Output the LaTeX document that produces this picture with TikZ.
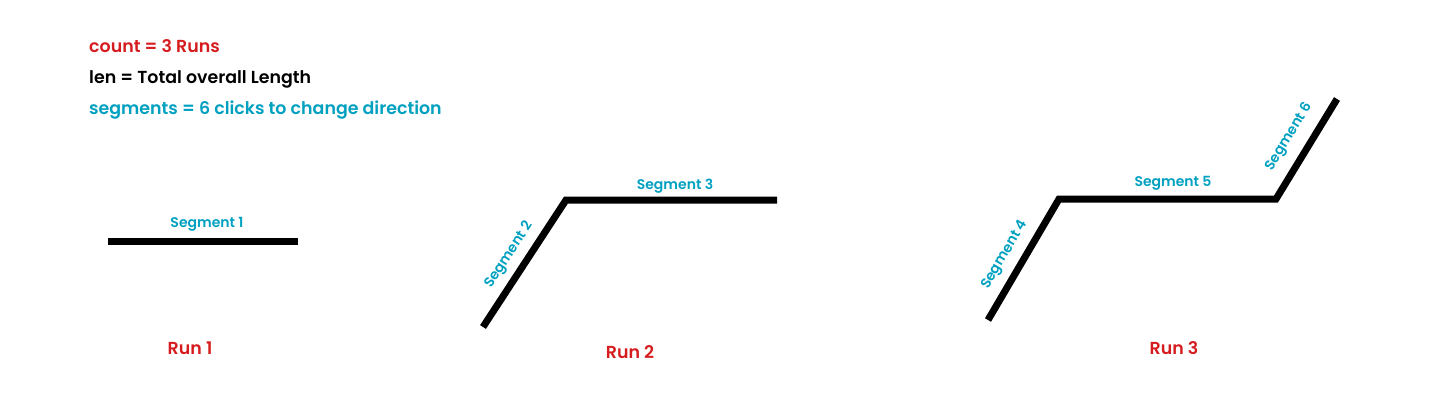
\documentclass[tikz,border=0pt]{standalone}
\usepackage{fontspec}
\setmainfont{Poppins}[BoldFont={Poppins SemiBold}]
\definecolor{runred}{RGB}{214,28,30}
\definecolor{segcyan}{RGB}{0,160,192}
\begin{document}
\begin{tikzpicture}[x=1pt,y=-1pt,
  pipe/.style={line width=7pt,black,line join=miter},
  header/.style={anchor=west,inner sep=0pt,font=\fontsize{17.4}{20}\selectfont\bfseries},
  seglabel/.style={inner sep=0pt,text=segcyan,font=\fontsize{14}{16}\selectfont\bfseries},
  runlabel/.style={inner sep=0pt,text=runred,font=\fontsize{17.4}{20}\selectfont\bfseries}]
\useasboundingbox (0,0) rectangle (1440,410);
% header
\node[header,text=runred] (h1) at (89,46) {count = 3 Runs};
\node[header,text=black] (h2) at (89,79) {len = Total overall Length};
\node[header,text=segcyan] (h3) at (89,110) {segments = 6 clicks to change direction};
% run 1
\coordinate (r1a) at (108,241);
\coordinate (r1b) at (298,241);
\draw[pipe] (r1a) -- (r1b);
\node[seglabel] (s1) at (207,224) {Segment 1};
\node[runlabel] (run1) at (190,348) {Run 1};
% run 2
\coordinate (r2a) at (483,327);
\coordinate (r2b) at (566,200);
\coordinate (r2c) at (777,200);
\draw[pipe] (r2a) -- (r2b) -- (r2c);
\node[seglabel,rotate=57] (s2) at (509,255) {Segment 2};
\node[seglabel] (s3) at (675,186) {Segment 3};
\node[runlabel] (run2) at (630,352) {Run 2};
% run 3
\coordinate (r3a) at (988,320);
\coordinate (r3b) at (1059,199);
\coordinate (r3c) at (1276,199);
\coordinate (r3d) at (1337,99);
\draw[pipe] (r3a) -- (r3b) -- (r3c) -- (r3d);
\node[seglabel,rotate=59.5] (s4) at (1005,255) {Segment 4};
\node[seglabel] (s5) at (1173,183) {Segment 5};
\node[seglabel,rotate=58.6] (s6) at (1289,137) {Segment 6};
\node[runlabel] (run3) at (1174,348) {Run 3};
\end{tikzpicture}
\end{document}
